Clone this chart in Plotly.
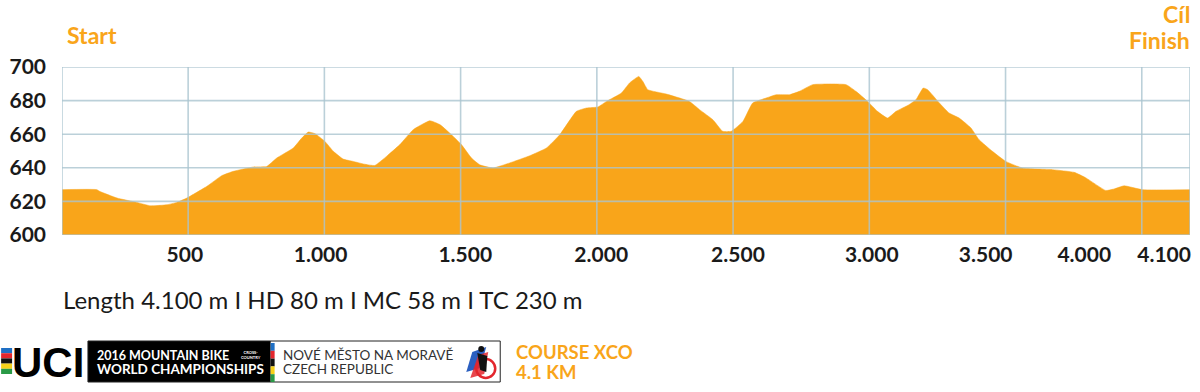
import plotly.graph_objects as go

# ---------------- data ----------------
distance_m = [37, 165, 175, 239, 312, 361, 422, 458, 495, 569, 623, 666, 740, 788, 825, 886,
              917, 941, 966, 1002, 1033, 1069, 1106, 1143, 1185, 1228, 1277, 1326, 1387, 1424,
              1473, 1503, 1540, 1570, 1619, 1680, 1754, 1815, 1864, 1925, 1962, 2004, 2035,
              2090, 2120, 2154, 2169, 2187, 2255, 2340, 2377, 2426, 2462, 2493, 2536, 2572,
              2621, 2658, 2707, 2743, 2792, 2866, 2915, 2951, 2994, 3030, 3067, 3098, 3146,
              3171, 3198, 3214, 3257, 3293, 3330, 3373, 3403, 3452, 3501, 3562, 3672, 3752,
              3795, 3868, 3898, 3935, 4002, 4177]
elevation_m = [627, 627, 626, 622, 619.4, 617.4, 618, 619.4, 622, 629, 635.3, 637.9, 640.5,
               640.8, 645.8, 651.8, 657.7, 661.3, 660.3, 655.7, 649.8, 645.2, 643.8, 642.3,
               641.4, 646.8, 653.8, 662.7, 668, 665.7, 658.7, 653.8, 645.8, 641.8, 639.9,
               642.9, 647.2, 651.8, 659.7, 673.6, 675.6, 676.2, 679.5, 684.5, 690.5, 694.4,
               691.4, 686.5, 683.9, 679.5, 674.6, 668.6, 661.7, 661.7, 667.6, 678.6, 681.5,
               683.5, 683.5, 685.5, 689.5, 689.9, 689.5, 685.5, 679.5, 673.6, 669.6, 673.6,
               677.6, 680.5, 687.5, 686.5, 678.6, 672.6, 669.6, 663.7, 656.7, 649.8, 643.8,
               639.9, 638.9, 637.3, 634, 626.5, 627.4, 629.3, 627, 627]

x_tick_text = ["500", "1.000", "1.500", "2.000", "2.500", "3.000", "3.500", "4.000", "4.100"]
x_grid_vals = [500, 1000, 1500, 2000, 2500, 3000, 3500, 4000]
y_tick_vals = [600, 620, 640, 660, 680, 700]

# layout helpers (label placement as in the reference picture, not data)
x_label_pos = [488, 986, 1517, 2016, 2518, 3009, 3427, 3789, 4082]
x_range = [37, 4177]
y_range = [600, 700]

ORANGE = "#F9A51A"
GRID = "rgba(170,196,208,0.8)"
FONT = "Lato"

fig = go.Figure()
fig.add_trace(go.Scatter(
    x=distance_m, y=elevation_m, mode="lines", fill="tozeroy",
    fillcolor=ORANGE, line=dict(color=ORANGE, width=0.5, shape="spline", smoothing=0.4),
    hoverinfo="skip"))

W, H = 1200, 392
L, R, T, B = 61, 9, 67, 157
PW, PH = W - L - R, H - T - B


def px(x):
    return (x - L) / PW


def py(y):
    return (H - B - y) / PH


shapes = []
for v in x_grid_vals + x_range:
    shapes.append(dict(type="line", xref="x", yref="y", x0=v, x1=v, y0=y_range[0], y1=y_range[1],
                       line=dict(color=GRID, width=1.6), layer="above"))
for v in y_tick_vals:
    shapes.append(dict(type="line", xref="x", yref="y", x0=x_range[0], x1=x_range[1], y0=v, y1=v,
                       line=dict(color=GRID, width=1.6), layer="above"))

# ---------- banner (logo) ----------
stripe_cols = ["#1f6fc4", "#e3262d", "#111111", "#f6d11a", "#2a9a46"]
sy0, sy1 = 348, 374
h = (sy1 - sy0) / 5
for i, c in enumerate(stripe_cols):
    shapes.append(dict(type="rect", xref="paper", yref="paper", x0=px(0), x1=px(11),
                       y0=py(sy0 + i * h), y1=py(sy0 + (i + 1) * h), fillcolor=c, line=dict(width=0)))
shapes.append(dict(type="rect", xref="paper", yref="paper", x0=px(87), x1=px(270),
                   y0=py(341), y1=py(382), fillcolor="#000000", line=dict(width=0)))
shapes.append(dict(type="rect", xref="paper", yref="paper", x0=px(87), x1=px(500),
                   y0=py(341), y1=py(382), fillcolor="rgba(0,0,0,0)",
                   line=dict(color="#222222", width=1)))
vh = (382 - 343) / 5
for i, c in enumerate(stripe_cols):
    shapes.append(dict(type="rect", xref="paper", yref="paper", x0=px(270), x1=px(274),
                       y0=py(343 + i * vh), y1=py(343 + (i + 1) * vh), fillcolor=c, line=dict(width=0)))
# icon
shapes.append(dict(type="path", xref="paper", yref="paper",
                   path="M {} {} L {} {} L {} {} L {} {} Z".format(px(466), py(372), px(472), py(352),
                                                                    px(486), py(347), px(480), py(368)),
                   fillcolor="#2b5fc0", line=dict(width=0)))
shapes.append(dict(type="circle", xref="paper", yref="paper", x0=px(476), x1=px(495),
                   y0=py(378), y1=py(359), fillcolor="rgba(0,0,0,0)", line=dict(color="#e3262d", width=2.5)))
shapes.append(dict(type="path", xref="paper", yref="paper",
                   path="M {} {} L {} {} L {} {} L {} {} Z".format(px(470), py(378), px(478), py(355),
                                                                    px(488), py(352), px(484), py(374)),
                   fillcolor="#e3262d", line=dict(width=0), opacity=0.85))
shapes.append(dict(type="circle", xref="paper", yref="paper", x0=px(478), x1=px(484),
                   y0=py(352), y1=py(346), fillcolor="#111111", line=dict(width=0)))
shapes.append(dict(type="path", xref="paper", yref="paper",
                   path="M {} {} L {} {} L {} {} L {} {} Z".format(px(477), py(353), px(487), py(356),
                                                                    px(486), py(372), px(480), py(370)),
                   fillcolor="#111111", line=dict(width=0)))

annotations = []


def txt(text, x, y, size, color, xanchor="left", weight="normal", family=FONT):
    annotations.append(dict(text=text, x=px(x), y=py(y), xref="paper", yref="paper",
                            xanchor=xanchor, yanchor="middle", showarrow=False,
                            font=dict(family=family, size=size, color=color, weight=weight)))


txt("Start", 64, 35, 23, ORANGE, weight="bold")
txt("Cíl", 1193, 14, 23, ORANGE, xanchor="right", weight="bold")
txt("Finish", 1193, 40, 23, ORANGE, xanchor="right", weight="bold")
txt("Length 4.100 m I HD 80 m I MC 58 m I TC 230 m", 60, 299, 24, "#1a1a1a")
txt("<b>UCI</b>", 9, 362, 42, "#000000", family="Liberation Sans")
txt("2016 MOUNTAIN BIKE", 94, 355, 12.5, "#ffffff", weight="bold")
txt("WORLD CHAMPIONSHIPS", 94, 369, 13.5, "#ffffff", weight="bold")
txt("CROSS-<br>COUNTRY", 238, 355, 4, "#ffffff", weight="bold")
txt("NOVÉ MĚSTO NA MORAVĚ", 280, 355, 13.5, "#333333")
txt("CZECH REPUBLIC", 280, 369, 13.5, "#333333")
txt("COURSE XCO", 514, 352, 18.5, ORANGE, weight="bold")
txt("4.1 KM", 514, 372, 18.5, ORANGE, weight="bold")

fig.update_layout(
    width=W, height=H,
    margin=dict(l=L, r=R, t=T, b=B),
    paper_bgcolor="white", plot_bgcolor="white",
    showlegend=False,
    shapes=shapes, annotations=annotations,
    xaxis=dict(range=x_range, tickvals=x_label_pos, ticktext=x_tick_text, tickangle=0,
               showgrid=False, zeroline=False, showline=False, ticks="", ticklabelstandoff=5,
               tickfont=dict(family=FONT, size=21, color="#1a1a1a", weight="bold"), fixedrange=True),
    yaxis=dict(range=y_range, tickvals=y_tick_vals, showgrid=False, zeroline=False, showline=False,
               ticks="", ticklabelstandoff=15,
               tickfont=dict(family=FONT, size=21, color="#1a1a1a", weight="bold"), fixedrange=True),
)

fig.write_html("out.html", config={"displayModeBar": False},
               post_script="document.body.style.margin='0';")
